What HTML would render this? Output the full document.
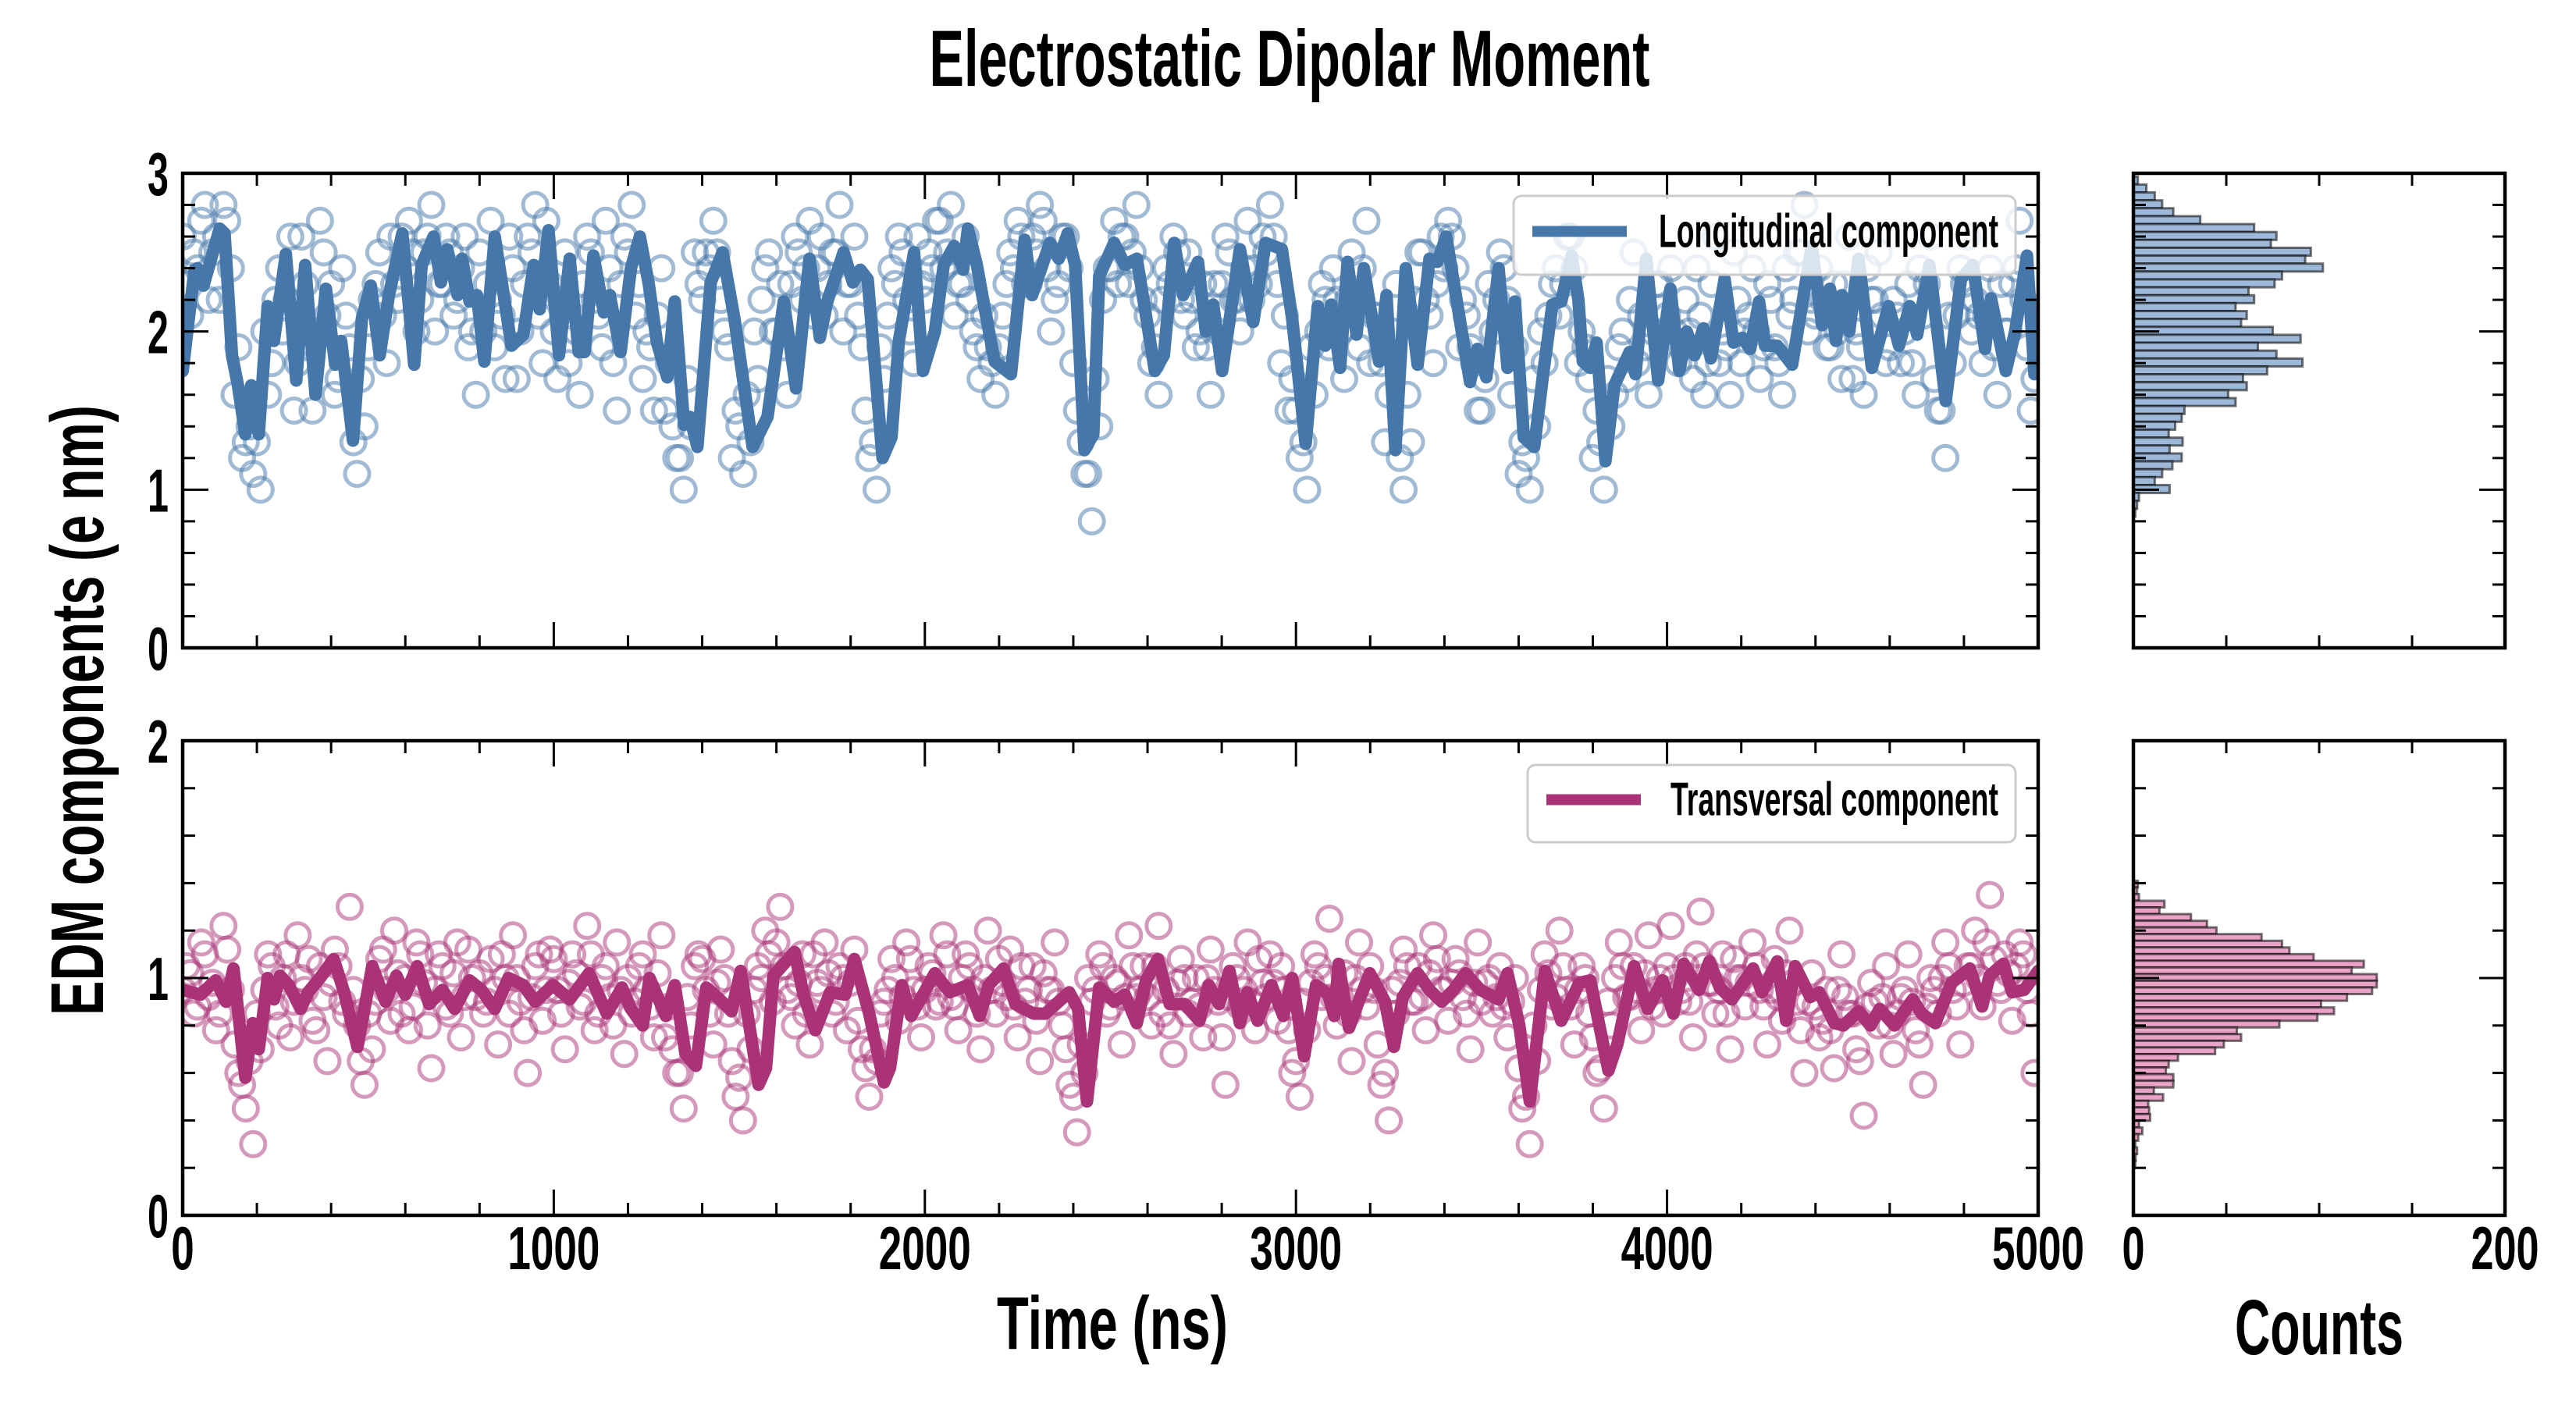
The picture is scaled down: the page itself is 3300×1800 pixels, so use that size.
<!DOCTYPE html>
<html><head><meta charset="utf-8"><title>Electrostatic Dipolar Moment</title>
<style>
html,body{margin:0;padding:0;background:#fff;}
svg{display:block;}
text{font-family:"Liberation Sans Narrow","Liberation Sans",sans-serif;font-weight:bold;fill:#000;}
</style></head>
<body>
<svg id="chart" xmlns="http://www.w3.org/2000/svg" width="3300" height="1800" viewBox="0 0 3300 1800">
<rect x="0" y="0" width="3300" height="1800" fill="#fff"/>
<text x="1652" y="110" font-size="102" text-anchor="middle" textLength="923" lengthAdjust="spacingAndGlyphs">Electrostatic Dipolar Moment</text>
<text transform="translate(132,910) rotate(-90)" font-size="96" text-anchor="middle" textLength="782" lengthAdjust="spacingAndGlyphs">EDM components (e nm)</text>
<text x="1425" y="1728" font-size="96" text-anchor="middle" textLength="296" lengthAdjust="spacingAndGlyphs">Time (ns)</text>
<text x="2971" y="1735" font-size="100" text-anchor="middle" textLength="216" lengthAdjust="spacingAndGlyphs">Counts</text>
<g id="layer"></g>
</svg>
<script>
// ---------- data ----------
const topLine=[[0,1.75],[32,2.39],[40,2.40],[56,2.29],[100,2.65],[113,2.62],[133,1.85],[149,1.66],[169,1.35],[185,1.66],[205,1.35],[229,2.16],[246,1.94],[278,2.49],[306,1.69],[330,2.42],[358,1.60],[386,2.27],[411,1.79],[427,1.94],[459,1.31],[483,2.08],[507,2.29],[531,1.85],[556,2.23],[592,2.62],[624,1.79],[644,2.42],[676,2.60],[696,2.31],[713,2.52],[741,2.23],[753,2.46],[773,2.19],[793,2.23],[813,1.81],[841,2.60],[886,1.91],[918,1.98],[946,2.42],[962,2.14],[986,2.64],[1014,1.85],[1043,2.46],[1067,1.87],[1083,1.87],[1107,2.48],[1135,2.12],[1151,2.23],[1180,1.87],[1208,2.40],[1232,2.60],[1256,2.30],[1278,1.93],[1306,1.71],[1326,2.19],[1351,1.41],[1367,1.46],[1387,1.27],[1423,2.31],[1455,2.50],[1487,2.08],[1536,1.27],[1576,1.46],[1620,2.19],[1653,1.64],[1689,2.46],[1717,1.96],[1737,2.19],[1781,2.50],[1806,2.31],[1826,2.39],[1846,2.33],[1886,1.20],[1910,1.33],[1930,1.94],[1971,2.50],[1995,1.75],[2027,2.00],[2051,2.42],[2079,2.54],[2103,2.39],[2116,2.65],[2140,2.42],[2160,2.16],[2188,1.81],[2232,1.73],[2269,2.58],[2289,2.23],[2337,2.56],[2361,2.46],[2385,2.62],[2405,2.42],[2430,1.25],[2454,1.35],[2470,2.35],[2510,2.56],[2539,2.42],[2571,2.46],[2620,1.75],[2644,1.85],[2672,2.56],[2696,2.23],[2736,2.44],[2757,2.00],[2777,2.17],[2801,1.75],[2849,2.52],[2885,2.06],[2918,2.56],[2962,2.52],[2990,2.08],[3026,1.29],[3059,2.16],[3079,1.91],[3095,2.17],[3119,1.77],[3139,2.44],[3163,1.98],[3183,2.40],[3224,1.81],[3244,2.23],[3268,1.25],[3296,2.40],[3328,1.79],[3360,2.46],[3381,2.44],[3405,2.60],[3469,1.68],[3489,1.89],[3513,1.71],[3546,2.40],[3570,1.77],[3590,2.19],[3614,1.33],[3642,1.27],[3666,1.73],[3691,2.17],[3715,2.19],[3743,2.48],[3761,2.20],[3773,1.81],[3793,1.77],[3810,1.93],[3834,1.18],[3858,1.66],[3899,1.87],[3915,1.73],[3944,2.46],[3976,1.69],[4009,2.27],[4033,1.75],[4053,2.00],[4074,1.85],[4098,2.02],[4118,1.83],[4155,2.33],[4179,1.93],[4203,1.96],[4224,1.89],[4248,2.19],[4264,1.91],[4297,1.91],[4337,1.79],[4390,2.54],[4418,2.04],[4439,2.27],[4455,1.94],[4471,2.23],[4491,2.00],[4516,2.46],[4552,1.77],[4597,2.16],[4625,1.91],[4654,2.16],[4674,1.98],[4707,2.42],[4751,1.56],[4792,2.33],[4824,2.42],[4857,1.89],[4873,2.21],[4913,1.75],[4938,2.00],[4970,2.48],[4990,1.73],[5000,1.75]];
const botLine=[[0,0.95],[48,0.93],[89,0.99],[117,0.90],[137,1.04],[169,0.58],[189,0.81],[205,0.70],[229,1.00],[246,0.91],[262,1.01],[286,0.97],[318,0.87],[338,0.94],[370,1.00],[407,1.08],[435,0.94],[471,0.71],[511,1.05],[547,0.90],[576,1.01],[600,0.93],[632,1.05],[664,0.89],[700,0.95],[733,0.87],[773,0.99],[805,0.95],[841,0.87],[878,1.00],[918,0.97],[950,0.90],[998,0.97],[1043,0.91],[1095,1.02],[1143,0.85],[1184,0.96],[1208,0.87],[1240,0.80],[1258,1.00],[1302,0.84],[1326,0.97],[1355,0.68],[1383,0.63],[1411,0.96],[1447,0.91],[1479,0.86],[1504,1.03],[1552,0.55],[1572,0.62],[1592,1.01],[1649,1.11],[1673,0.93],[1705,0.78],[1745,0.94],[1785,0.93],[1810,1.08],[1850,0.85],[1890,0.56],[1906,0.62],[1938,0.97],[1963,0.84],[2027,1.02],[2067,0.94],[2116,0.97],[2148,0.84],[2172,0.97],[2212,1.04],[2244,0.89],[2293,0.85],[2325,0.85],[2389,0.94],[2413,0.87],[2437,0.48],[2470,0.96],[2510,0.90],[2539,0.93],[2571,0.81],[2596,0.99],[2628,1.08],[2660,0.89],[2700,0.89],[2740,0.82],[2765,0.97],[2793,0.89],[2821,1.03],[2849,0.81],[2869,0.94],[2897,0.82],[2934,0.97],[2966,0.84],[2990,1.00],[3022,0.67],[3054,0.97],[3087,0.93],[3103,0.84],[3115,1.06],[3143,0.79],[3171,0.91],[3199,1.02],[3240,0.90],[3264,0.71],[3288,0.92],[3328,1.02],[3360,0.95],[3393,0.90],[3425,0.95],[3457,1.02],[3497,0.95],[3546,0.91],[3570,1.02],[3602,0.80],[3630,0.48],[3671,1.03],[3715,0.82],[3764,0.98],[3793,0.99],[3842,0.61],[3866,0.72],[3911,1.05],[3948,0.87],[3988,0.99],[4017,0.85],[4045,1.06],[4086,0.95],[4114,1.07],[4142,0.96],[4175,0.91],[4232,1.04],[4256,0.94],[4297,1.07],[4321,0.82],[4345,1.05],[4386,0.92],[4410,0.94],[4451,0.81],[4475,0.80],[4516,0.86],[4548,0.80],[4573,0.87],[4613,0.80],[4662,0.91],[4686,0.85],[4723,0.81],[4767,0.98],[4816,1.04],[4849,0.88],[4869,1.01],[4906,1.06],[4930,0.94],[4962,0.95],[5000,1.03]];
const scatterStep=20;
const topScatter=[2.3,2.5,2.7,2.2,2.6,2.8,2.4,1.9,1.3,1.1, 1.0,1.6,2.2,2.0,2.6,1.8,2.3,1.5,2.7,2.1, 1.6,2.4,1.9,1.1,1.4,2.2,2.5,1.8,2.3,2.6, 2.7,2.0,2.5,2.8,2.3,2.6,2.1,2.4,1.9,1.6, 2.0,2.7,2.2,1.7,2.4,2.0,2.6,2.8,1.8,2.3, 1.7,2.5,2.1,1.6,2.6,2.2,1.9,2.4,1.5,2.6, 2.8,2.3,2.0,1.5,2.4,1.8,1.2,1.0,1.4,2.3, 2.5,2.7,2.2,1.9,1.5,1.1,1.3,1.7,2.4,2.0, 2.3,1.6,2.6,2.2,2.7,2.4,2.1,2.5,2.8,2.3, 2.6,1.9,1.2,1.0,1.7,2.4,2.6,2.2,1.8,2.3, 2.5,2.7,2.4,2.8,2.3,2.6,2.0,1.7,1.9,1.6, 2.1,2.5,2.7,2.3,2.6,2.8,2.4,2.2,2.6,2.4, 1.5,1.1,0.8,1.4,2.4,2.7,2.6,2.3,2.8,2.2, 1.8,1.6,2.4,2.6,2.2,2.5,1.9,2.3,1.6,2.0, 2.6,2.2,2.0,2.7,2.4,2.6,2.8,2.3,2.1,1.7, 1.2,1.0,1.6,2.3,1.9,2.2,1.7,2.5,1.9,2.7, 2.1,1.8,1.6,2.3,1.0,1.3,2.5,2.2,1.8,2.6, 2.7,2.4,2.2,1.9,1.5,1.7,2.0,2.5,2.2,1.9, 1.3,1.0,1.4,1.8,2.3,2.1,2.6,2.4,2.0,1.7, 1.5,1.0,1.4,1.9,1.7,2.5,2.1,1.6,2.3,2.0, 2.4,1.8,2.2,1.7,2.1,1.8,2.6,2.0,1.6,2.2, 2.0,2.4,1.7,2.3,1.9,1.6,2.1,2.5,2.8,2.2, 2.4,1.9,2.3,1.7,2.6,2.0,1.6,2.2,2.5,1.8, 2.2,1.8,2.3,1.6,2.1,2.6,1.5,1.2,1.8,2.4, 2.6,2.2,1.8,2.4,1.6,2.0,2.3,2.7,1.9,1.7];
const topScatter2=[2.6,2.1,2.4,2.8,2.5,2.2,2.7,1.6,1.2,1.4, 1.3,2.0,1.8,2.4,2.2,1.5,2.6,1.9,2.0,2.5, 2.3,1.7,2.1,1.3,1.7,1.9,2.3,2.1,2.6,2.2, 2.4,2.5,2.2,2.6,2.0,2.3,2.5,2.2,2.6,2.0, 2.5,2.3,1.9,2.1,2.6,1.7,2.3,2.5,2.1,2.7, 2.0,2.2,1.8,2.0,2.3,2.5,2.1,2.7,1.8,2.3, 2.5,2.1,1.7,1.9,2.1,1.5,1.4,1.2,1.7,2.5, 2.2,2.4,2.5,2.0,1.2,1.4,1.6,2.0,2.2,2.5, 2.0,1.9,2.3,2.5,2.4,2.1,2.6,2.3,2.5,2.0, 2.3,2.1,1.5,1.3,1.9,2.1,2.3,2.5,2.0,2.6, 2.2,2.4,2.7,2.5,2.1,2.3,2.2,1.9,2.1,1.8, 1.9,2.3,2.4,2.6,2.3,2.5,2.7,2.0,2.3,2.6, 1.8,1.3,1.1,1.7,2.2,2.4,2.3,2.6,2.5,2.4, 2.1,1.9,2.2,2.3,2.5,2.1,2.2,2.0,1.9,2.3, 2.3,2.5,2.2,2.4,2.2,2.3,2.5,2.6,1.8,1.5, 1.5,1.3,1.9,2.0,2.2,2.4,2.0,2.2,2.2,2.4, 1.8,2.1,1.3,2.0,1.2,1.6,2.2,2.5,2.1,2.3, 2.4,2.6,1.9,2.1,1.8,1.5,2.3,2.2,2.4,1.6, 1.1,1.2,1.7,2.0,2.1,2.4,2.3,2.6,1.8,1.9, 1.2,1.3,1.7,1.6,2.0,2.2,1.8,1.9,2.0,2.3, 2.1,2.0,1.9,2.0,2.4,1.6,2.3,1.8,1.9,2.5, 1.8,2.1,2.0,1.9,2.2,1.8,2.4,2.2,2.5,2.0, 2.1,2.2,1.9,2.0,2.3,1.7,1.9,2.4,2.2,2.1, 1.9,2.1,2.0,1.8,2.4,2.3,1.7,1.5,2.1,2.1, 2.3,2.0,2.1,2.1,1.9,2.3,2.0,2.4,2.2,1.5];
const botScatter=[1.05,0.85,1.15,0.92,0.78,1.22,0.95,0.6,0.45,0.3, 0.7,1.1,0.88,1.0,0.75,1.18,0.95,0.82,1.05,0.65, 1.12,0.9,1.3,0.8,0.55,0.7,1.08,0.95,1.2,0.85, 0.78,1.15,0.98,0.62,1.1,0.88,1.02,0.75,1.12,0.92, 0.85,1.08,0.72,1.0,1.18,0.9,0.6,1.05,0.82,1.12, 0.95,0.7,1.1,0.88,1.22,0.78,1.0,0.92,1.15,0.68, 0.85,1.05,0.95,0.75,1.18,0.88,0.6,0.45,0.8,1.1, 0.95,0.72,1.12,0.85,0.5,0.4,0.7,1.05,1.2,0.9, 1.3,0.95,0.8,1.1,0.72,0.98,1.15,0.85,1.05,0.78, 1.12,0.7,0.5,0.65,0.9,1.08,0.82,1.15,0.95,0.75, 1.05,0.88,1.18,0.92,0.78,1.1,0.95,0.7,1.2,0.85, 0.98,1.12,0.75,0.9,1.05,0.65,0.95,1.15,0.8,0.55, 0.35,0.6,0.9,1.1,0.85,1.0,0.72,1.18,0.92,1.05, 0.8,1.22,0.95,0.68,1.08,0.85,1.0,0.75,1.12,0.9, 0.55,1.05,0.88,1.15,0.78,0.98,1.1,0.82,0.95,0.6, 0.5,0.78,1.1,0.92,1.25,0.8,1.02,0.65,1.15,0.88, 0.95,0.55,0.4,0.85,1.12,0.9,1.05,0.78,1.18,0.95, 0.82,1.08,0.92,0.7,1.15,0.98,0.85,1.05,0.75,1.0, 0.45,0.3,0.65,1.1,0.88,1.2,0.95,0.72,1.05,0.85, 0.6,0.45,0.8,1.15,0.92,1.05,0.78,1.18,0.95,0.85, 1.22,0.9,1.05,0.75,1.28,0.98,0.85,1.1,0.7,1.0, 0.88,1.15,0.95,0.72,1.08,0.82,1.2,0.9,0.6,1.02, 0.75,0.95,0.62,1.1,0.85,0.7,0.42,0.98,0.8,1.05, 0.68,0.92,1.1,0.78,0.55,1.0,0.85,1.15,0.95,0.72, 1.05,1.2,0.88,1.35,0.98,1.1,0.82,1.15,0.95,0.6];
const botScatter2=[0.95,1.02,0.88,1.1,0.98,0.85,1.12,0.72,0.55,0.65, 0.85,0.95,1.05,0.8,1.1,0.9,1.0,1.08,0.78,0.92, 0.98,1.05,0.85,0.95,0.65,0.85,0.9,1.12,0.82,1.02, 1.0,0.88,1.1,0.8,0.95,1.05,0.85,1.15,0.92,1.0, 1.02,0.9,0.95,1.1,0.85,1.0,0.78,0.92,1.1,0.95, 1.08,0.85,0.98,1.02,0.9,1.1,0.85,1.05,0.8,0.95, 1.0,0.9,1.1,0.88,1.02,0.75,0.7,0.6,0.92,1.05, 1.08,0.85,0.98,1.0,0.65,0.58,0.85,0.95,1.0,1.1, 1.15,1.05,0.92,0.98,0.85,1.1,0.95,1.02,0.9,1.0, 0.98,0.82,0.62,0.7,0.85,0.95,1.0,0.92,1.08,0.88, 0.95,1.02,0.9,1.1,0.88,1.0,1.05,0.85,1.0,0.95, 1.08,0.92,0.88,1.05,0.95,0.82,1.02,0.95,0.9,0.7, 0.5,0.72,1.0,0.95,1.05,0.88,0.98,0.92,1.05,0.95, 0.92,1.05,0.85,0.8,0.98,1.0,0.9,0.88,1.0,0.95, 0.75,0.92,1.0,0.95,0.9,1.08,0.92,0.98,1.05,0.78, 0.65,0.9,0.98,1.05,1.0,0.92,0.88,0.85,1.0,0.95, 1.05,0.72,0.6,0.95,0.98,1.05,0.9,0.92,1.02,1.08, 0.95,0.98,1.02,0.85,0.98,0.9,1.0,0.92,0.88,0.9, 0.62,0.5,0.8,0.95,1.02,0.92,1.05,0.88,0.95,1.0, 0.75,0.62,0.9,1.0,1.05,0.92,0.95,1.02,0.88,1.0, 1.05,1.0,0.95,0.9,1.1,1.05,0.98,0.95,0.85,1.08, 1.0,0.98,1.05,0.88,0.95,0.92,1.02,0.98,0.78,0.9, 0.88,0.82,0.78,0.95,0.92,0.85,0.65,0.88,0.9,0.92, 0.8,0.85,0.95,0.9,0.72,0.88,0.95,1.0,1.05,0.88, 0.98,1.05,1.0,1.15,1.08,0.95,1.02,1.05,1.1,0.85];
// histogram counts, listed from the highest bin downward
const topHistCounts=[2.4,7,11.5,15.5,21.5,36,65,77,74,95.5,92.5,102,80,76,62,65,55,61,58,75,90,67,77,91,72,59,61,51,55,27.5,26,22.5,19,26.5,19.5,26,21,15.5,11.5,19.5,3,2,1];
const topHistTop=2.979, topHistBin=0.05;
const botHistCounts=[2.4,2,3,16.7,14,31,39.6,44.7,69,80,84,97,124,117.5,131,131,128.5,115,101,108,99,78.6,55.7,58,48.7,44,24,19,17.5,21.5,21.5,11,16,8,8.5,9,3,4.8,2.6,1,2,1.2,1];
const botHistTop=1.410, botHistBin=0.0281;
const xTickLabels=["0","1000","2000","3000","4000","5000"];
const topYTickLabels=["0","1","2","3"];
const botYTickLabels=["0","1","2"];
const histXTickLabels=["0","200"];

// ---------- layout ----------
const NS="http://www.w3.org/2000/svg";
const layer=document.getElementById('layer');
const MX0=234, MX1=2611, HX0=2733, HX1=3209;
const TOP={y0:222,y1:830,max:3}, BOT={y0:949,y1:1557,max:2};
const xs=t=>MX0+(MX1-MX0)*t/5000;
const hxs=c=>HX0+(HX1-HX0)*c/200;
const ysOf=p=>v=>p.y1-(p.y1-p.y0)*v/p.max;
const C_BLUE='#4577aa', C_PINK='#aa3377';

function mk(tag,attrs,parent){const e=document.createElementNS(NS,tag);for(const k in attrs)e.setAttribute(k,attrs[k]);(parent||layer).appendChild(e);return e;}

function clip(id,x,y,w,h){const d=mk('defs',{});const c=mk('clipPath',{id:id},d);mk('rect',{x:x,y:y,width:w,height:h},c);}

function axesFrame(x0,x1,p,name,xMaj,xMin,xMax,yStep,yMajEvery){
  const ys=ysOf(p);
  const g=mk('g',{});
  
  
  for(let v=0;v<=xMax+1e-9;v+=xMin){
    const major=Math.abs(v/xMaj-Math.round(v/xMaj))<1e-6;
    const L=major?33:16;const X=x0+(x1-x0)*v/xMax;
    mk('line',{x1:X,y1:p.y1,x2:X,y2:p.y1-L,stroke:'#000','stroke-width':3},g);
    mk('line',{x1:X,y1:p.y0,x2:X,y2:p.y0+L,stroke:'#000','stroke-width':3},g);
  }
  for(let i=0;i*yStep<=p.max+1e-9;i++){
    const v=i*yStep;const major=(i%yMajEvery)===0;const L=major?33:16;const Y=ys(v);
    mk('line',{x1:x0,y1:Y,x2:x0+L,y2:Y,stroke:'#000','stroke-width':3},g);
    mk('line',{x1:x1,y1:Y,x2:x1-L,y2:Y,stroke:'#000','stroke-width':3},g);
  }
  const r=mk('rect',{x:x0,y:p.y0,width:x1-x0,height:p.y1-p.y0,fill:'none',stroke:'#000','stroke-width':4.5});
  
  
}

function drawScatter(gs,ys,arr,offset,color,name){
  arr.forEach((v,i)=>{
    const c=mk('circle',{cx:xs(i*scatterStep+offset),cy:ys(v),r:15.5,fill:'none',stroke:color,'stroke-opacity':0.5,'stroke-width':5},gs);
    
    
  });
}

function panel(p,line,scatter,scatter2,color,name,cid){
  const ys=ysOf(p);
  clip(cid,MX0,p.y0,MX1-MX0,p.y1-p.y0);
  const gs=mk('g',{'clip-path':'url(#'+cid+')'});
  
  
  drawScatter(gs,ys,scatter,scatterStep/2,color,name);
  drawScatter(gs,ys,scatter2,0,color,name);
  const d=line.map((q,i)=>(i?'L':'M')+xs(q[0]).toFixed(1)+' '+ys(q[1]).toFixed(1)).join(' ');
  const pl=mk('path',{d:d,fill:'none',stroke:color,'stroke-width':16,'stroke-linejoin':'round','stroke-linecap':'round','clip-path':'url(#'+cid+')'});
  
  
}

function hist(p,counts,topEdge,bin,fill,name){
  const ys=ysOf(p);
  const g=mk('g',{});
  
  
  counts.forEach((c,i)=>{
    const hi=topEdge-i*bin, lo=hi-bin;
    const r=mk('rect',{x:hxs(0),y:ys(hi),width:Math.max(0,hxs(c)-hxs(0)),height:ys(lo)-ys(hi),fill:fill,stroke:'rgba(0,0,0,0.55)','stroke-width':3},g);
    
    
  });
}

function legend(x,y,w,h,color,label,textLen,name){
  const g=mk('g',{});
  
  
  mk('rect',{x:x,y:y,width:w,height:h,rx:10,fill:'rgba(255,255,255,0.8)',stroke:'#cccccc','stroke-width':3},g);
  mk('line',{x1:x+24,y1:y+h*0.45,x2:x+145,y2:y+h*0.45,stroke:color,'stroke-width':14},g);
  const t=mk('text',{x:x+w-22,y:y+h*0.65,'font-size':60,'text-anchor':'end',textLength:textLen,lengthAdjust:'spacingAndGlyphs'},g);
  t.textContent=label;
}

function label(x,y,s,anchor,len,name){
  const t=mk('text',{x:x,y:y,'font-size':78,'text-anchor':anchor,textLength:len,lengthAdjust:'spacingAndGlyphs'});
  t.textContent=s;
  
  
}

panel(TOP,topLine,topScatter,topScatter2,C_BLUE,'longitudinal','clipTop');
panel(BOT,botLine,botScatter,botScatter2,C_PINK,'transversal','clipBot');
hist(TOP,topHistCounts,topHistTop,topHistBin,'#9db8d8','longitudinal');
hist(BOT,botHistCounts,botHistTop,botHistBin,'#e9a3c6','transversal');
axesFrame(MX0,MX1,TOP,'top-main',1000,200,5000,0.2,5);
axesFrame(MX0,MX1,BOT,'bottom-main',1000,200,5000,0.2,5);
axesFrame(HX0,HX1,TOP,'top-hist',200,50,200,0.2,5);
axesFrame(HX0,HX1,BOT,'bottom-hist',200,50,200,0.2,5);
legend(1939,251,643,101,C_BLUE,'Longitudinal component',435,'longitudinal');
legend(1957,980,625,99,C_PINK,'Transversal component',420,'transversal');

const ysT=ysOf(TOP), ysB=ysOf(BOT);
topYTickLabels.forEach((s,i)=>label(216,ysT(i*1)+28,s,'end',27*s.length,'top-y-tick-label'));
botYTickLabels.forEach((s,i)=>label(216,ysB(i*1)+28,s,'end',27*s.length,'bottom-y-tick-label'));
xTickLabels.forEach((s,i)=>label(xs(i*1000),1626,s,'middle',29.5*s.length,'x-tick-label'));
histXTickLabels.forEach((s,i)=>label(hxs(i*200),1626,s,'middle',29*s.length,'hist-x-tick-label'));
</script>
</body></html>
